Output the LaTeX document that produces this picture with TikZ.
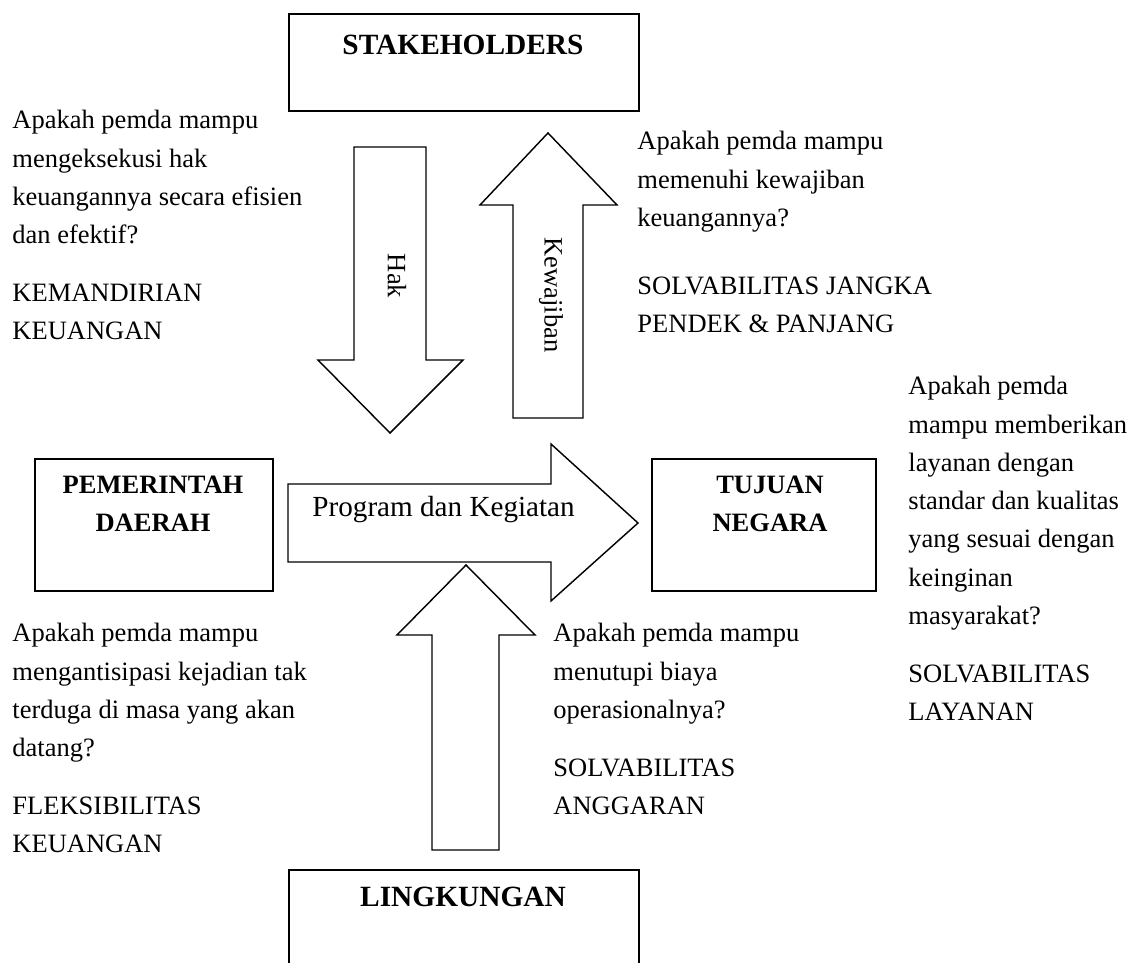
\documentclass[tikz,border=0pt]{standalone}
\usepackage{fontspec}
\setmainfont{Liberation Serif}
\begin{document}
\begin{tikzpicture}[x=0.4528pt,y=-0.4528pt,
  box/.style={draw,line width=0.9pt,inner sep=0,anchor=north west},
  blk/.style={draw,line width=0.65pt,fill=white,line join=miter},
  body/.style={inner sep=0,anchor=base west,font=\fontsize{12}{17.3}\selectfont},
  hd/.style={inner sep=0,anchor=base,font=\fontsize{12}{16.8}\selectfont\bfseries},
  hdbig/.style={inner sep=0,anchor=base,font=\fontsize{13.3}{16}\selectfont\bfseries},
  lbl/.style={inner sep=0,font=\fontsize{12}{14}\selectfont}]
\useasboundingbox (0,0) rectangle (1137,963);
\clip (0,0) rectangle (1137,963);

% boxes
\node[box,minimum width=350*0.4528pt,minimum height=97*0.4528pt] (stk) at (288,13) {};
\node[box,minimum width=238*0.4528pt,minimum height=132*0.4528pt] (pemda) at (34,458) {};
\node[box,minimum width=224*0.4528pt,minimum height=132*0.4528pt] (tujuan) at (651,458) {};
\node[box,minimum width=350*0.4528pt,minimum height=140*0.4528pt] (ling) at (288,869) {};

\node[hdbig] (stkt) at (463,55) {STAKEHOLDERS};
\node[hdbig] (lingt) at (463,907) {LINGKUNGAN};
\node[hd] (pemdat) at (153,494) {\vtop{\halign{\hfil#\hfil\cr PEMERINTAH\cr DAERAH\cr}}};
\node[hd] (tujuant) at (770,494) {\vtop{\halign{\hfil#\hfil\cr TUJUAN\cr NEGARA\cr}}};

% block arrows
\draw[blk] (354,147) -- (426,147) -- (426,360) -- (463,360) -- (390,433) -- (318,360) -- (354,360) -- cycle;
\draw[blk] (548,133) -- (617,205) -- (583,205) -- (583,418) -- (513,418) -- (513,205) -- (480,205) -- cycle;
\draw[blk] (288,484) -- (551,484) -- (551,444) -- (638,523) -- (551,601) -- (551,562) -- (288,562) -- cycle;
\draw[blk] (466,565) -- (535,635) -- (499,635) -- (499,850) -- (432,850) -- (432,635) -- (397,635) -- cycle;

\node[lbl,rotate=-90] (hak) at (397,276) {Hak};
\node[lbl,rotate=-90] (kew) at (551,295) {Kewajiban};
\node[inner sep=0,anchor=base west,font=\fontsize{13.2}{15}\selectfont] (prog) at (312,517) {Program dan Kegiatan};

% text blocks
\node[body] (t1) at (12,129) {\vtop{\hbox{Apakah pemda mampu}\hbox{mengeksekusi hak}\hbox{keuangannya secara efisien}\hbox{dan efektif?}\vskip9pt\hbox{KEMANDIRIAN}\hbox{KEUANGAN}}};
\node[body] (t2) at (637,150) {\vtop{\hbox{Apakah pemda mampu}\hbox{memenuhi kewajiban}\hbox{keuangannya?}\vskip13.5pt\hbox{SOLVABILITAS JANGKA}\hbox{PENDEK \& PANJANG}}};
\node[body] (t3) at (908,395) {\vtop{\hbox{Apakah pemda}\hbox{mampu memberikan}\hbox{layanan dengan}\hbox{standar dan kualitas}\hbox{yang sesuai dengan}\hbox{keinginan}\hbox{masyarakat?}\vskip9pt\hbox{SOLVABILITAS}\hbox{LAYANAN}}};
\node[body] (t4) at (12,642) {\vtop{\hbox{Apakah pemda mampu}\hbox{mengantisipasi kejadian tak}\hbox{terduga di masa yang akan}\hbox{datang?}\vskip9pt\hbox{FLEKSIBILITAS}\hbox{KEUANGAN}}};
\node[body] (t5) at (553,642) {\vtop{\hbox{Apakah pemda mampu}\hbox{menutupi biaya}\hbox{operasionalnya?}\vskip9pt\hbox{SOLVABILITAS}\hbox{ANGGARAN}}};
\end{tikzpicture}
\end{document}
